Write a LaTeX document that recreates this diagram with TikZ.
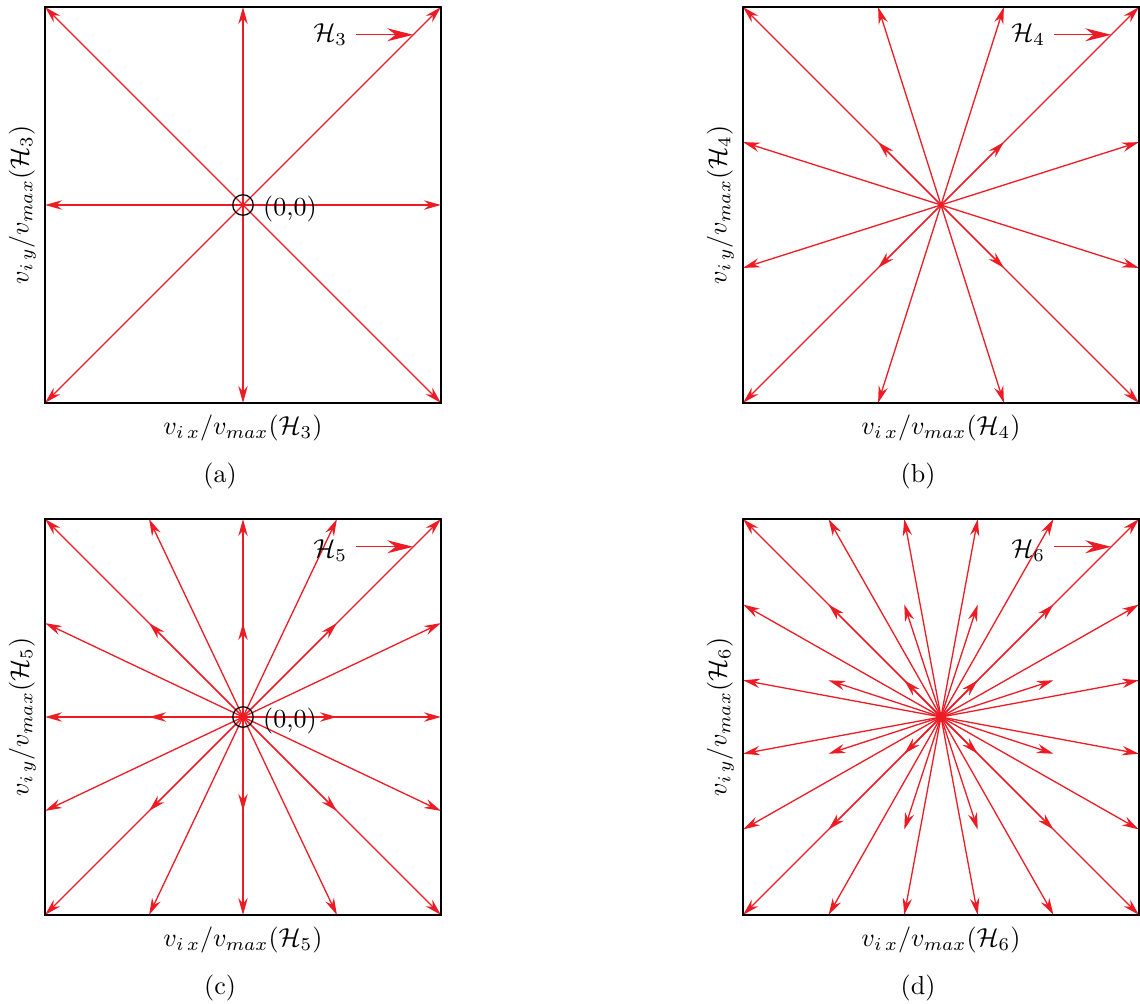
\documentclass[tikz,border=0pt]{standalone}
\usepackage{amsmath, amssymb}
\usetikzlibrary{arrows.meta, positioning}
\definecolor{velred}{RGB}{237,28,36}
\tikzset{
  vel/.style={velred, line width=0.5pt, -{Stealth[length=6.5pt, width=3.6pt]}},
  labarrow/.style={velred, line width=0.5pt, -{Stealth[length=10pt, width=5pt]}},
  frame/.style={black, line width=0.8pt},
  origin/.style={circle, draw, line width=0.5pt, inner sep=0pt, minimum size=7.9pt},
}

\begin{document}
\begin{tikzpicture}[x=0.0135cm, y=-0.0135cm]
\useasboundingbox (0,0) rectangle (1140,1003);

% (a) Hermite roots of H3, normalised by the largest one
\begin{scope}[shift={(243,205)}, x=2.673cm, y=2.673cm]
  \coordinate (oa) at (0,0);
  \foreach \vx [count=\i] in {-1,0,1}
    \foreach \vy [count=\j] in {-1,0,1} {
      \coordinate (a\i\j) at (\vx,\vy);
      \ifnum\i\j=22 \else \draw[vel] (oa) -- (a\i\j); \fi
    }
  \draw[frame] (-1,-1) rectangle (1,1);
  \node[origin] (ca) at (oa) {};
  \node[right=0pt of ca, yshift=-1.5pt] (za) {(0,0)};
  \node (ha) at (0.44,0.86) {$\mathcal{H}_3$};
  \coordinate (hta) at (0.86,0.86);
  \draw[labarrow] (ha) -- (hta);
  \node[below=1pt] (xa) at (0,-1) {$v_{i\,x}/v_{max}(\mathcal{H}_3)$};
  \node[rotate=90, anchor=south] (ya) at (-1,0) {$v_{i\,y}/v_{max}(\mathcal{H}_3)$};
  \node (sa) at (-0.116,-1.37) {(a)};
\end{scope}

% (b) H4
\begin{scope}[shift={(941,205)}, x=2.673cm, y=2.673cm]
  \coordinate (ob) at (0,0);
  \foreach \vx [count=\i] in {-1,-0.3178,0.3178,1}
    \foreach \vy [count=\j] in {-1,-0.3178,0.3178,1} {
      \coordinate (b\i\j) at (\vx,\vy);
      \draw[vel] (ob) -- (b\i\j);
    }
  \draw[frame] (-1,-1) rectangle (1,1);
  \node (hb) at (0.44,0.86) {$\mathcal{H}_4$};
  \coordinate (htb) at (0.86,0.86);
  \draw[labarrow] (hb) -- (htb);
  \node[below=1pt] (xb) at (0,-1) {$v_{i\,x}/v_{max}(\mathcal{H}_4)$};
  \node[rotate=90, anchor=south] (yb) at (-1,0) {$v_{i\,y}/v_{max}(\mathcal{H}_4)$};
  \node (sb) at (-0.116,-1.37) {(b)};
\end{scope}

% (c) H5
\begin{scope}[shift={(243,717)}, x=2.673cm, y=2.673cm]
  \coordinate (oc) at (0,0);
  \foreach \vx [count=\i] in {-1,-0.4745,0,0.4745,1}
    \foreach \vy [count=\j] in {-1,-0.4745,0,0.4745,1} {
      \coordinate (c\i\j) at (\vx,\vy);
      \ifnum\i\j=33 \else \draw[vel] (oc) -- (c\i\j); \fi
    }
  \draw[frame] (-1,-1) rectangle (1,1);
  \node[origin] (cc) at (oc) {};
  \node[right=0pt of cc, yshift=-1.5pt] (zc) {(0,0)};
  \node (hc) at (0.44,0.84) {$\mathcal{H}_5$};
  \coordinate (htc) at (0.86,0.86);
  \draw[labarrow] (hc.east |- htc) -- (htc);
  \node[below=1pt] (xc) at (0,-1) {$v_{i\,x}/v_{max}(\mathcal{H}_5)$};
  \node[rotate=90, anchor=south] (yc) at (-1,0) {$v_{i\,y}/v_{max}(\mathcal{H}_5)$};
  \node (sc) at (-0.116,-1.37) {(c)};
\end{scope}

% (d) H6
\begin{scope}[shift={(941,717)}, x=2.673cm, y=2.673cm]
  \coordinate (od) at (0,0);
  \foreach \vx [count=\i] in {-1,-0.5683,-0.1855,0.1855,0.5683,1}
    \foreach \vy [count=\j] in {-1,-0.5683,-0.1855,0.1855,0.5683,1} {
      \coordinate (d\i\j) at (\vx,\vy);
      \draw[vel] (od) -- (d\i\j);
    }
  \draw[frame] (-1,-1) rectangle (1,1);
  \node (hd) at (0.44,0.84) {$\mathcal{H}_6$};
  \coordinate (htd) at (0.86,0.86);
  \draw[labarrow] (hd.east |- htd) -- (htd);
  \node[below=1pt] (xd) at (0,-1) {$v_{i\,x}/v_{max}(\mathcal{H}_6)$};
  \node[rotate=90, anchor=south] (yd) at (-1,0) {$v_{i\,y}/v_{max}(\mathcal{H}_6)$};
  \node (sd) at (-0.116,-1.37) {(d)};
\end{scope}
\end{tikzpicture}
\end{document}
